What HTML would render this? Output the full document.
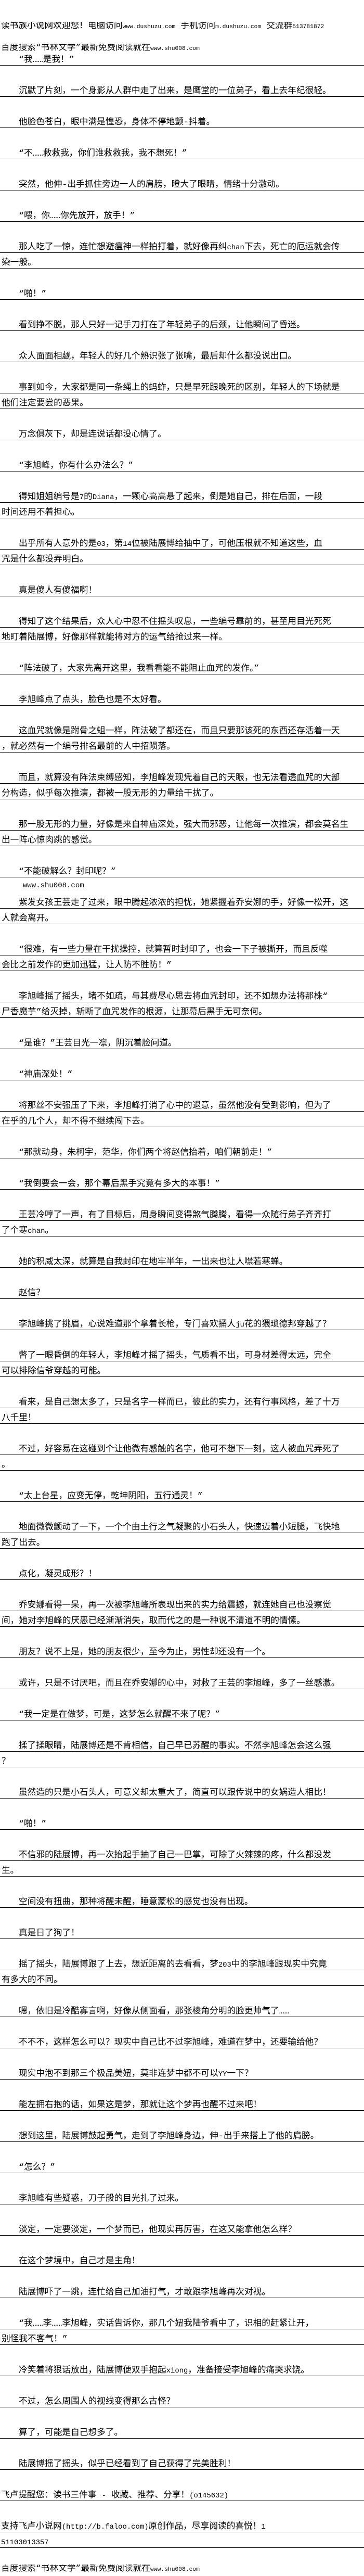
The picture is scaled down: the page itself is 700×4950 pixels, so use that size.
<!DOCTYPE html>
<html><head><meta charset="utf-8">
<style>
html,body{margin:0;padding:0;background:#fff;}
body{width:700px;height:4950px;overflow:hidden;position:relative;color:#000;
font-family:"Liberation Mono","Noto Sans CJK SC","WenQuanYi Zen Hei",monospace;font-size:16.7px;}
.h{position:absolute;left:2px;white-space:nowrap;line-height:18px;width:698px;overflow:hidden;}
.h .m{font-size:11.3px;}
.m{font-family:"Liberation Mono",monospace;font-size:13.9px;}
#c{position:absolute;top:96px;left:0;width:700px;}
.l{height:30px;box-sizing:border-box;border-bottom:1px solid #000;padding-top:11px;line-height:18px;white-space:nowrap;overflow:hidden;padding-left:36px;}
.l.c{padding-left:3px;}
.l.n{padding-left:2px;}
.g{height:30px;position:relative;}
.w{position:absolute;left:44px;top:8px;font-size:14px;}
</style></head><body>
<div class="h" style="top:42px">读书族小说网欢迎您！电脑访问<span class="m">www.dushuzu.com</span> 手机访问<span class="m">m.dushuzu.com</span> 交流群<span class="m">513781872</span></div>
<div class="h" style="top:84px">百度搜索“书林文学”最新免费阅读就在<span class="m">www.shu008.com</span></div>
<div id="c">
<div class="l">“我……是我！”</div>
<div class="g"></div><div class="l">沉默了片刻，一个身影从人群中走了出来，是鹰堂的一位弟子，看上去年纪很轻。</div>
<div class="g"></div><div class="l">他脸色苍白，眼中满是惶恐，身体不停地颤-抖着。</div>
<div class="g"></div><div class="l">“不……救救我，你们谁救救我，我不想死！”</div>
<div class="g"></div><div class="l">突然，他伸-出手抓住旁边一人的肩膀，瞪大了眼睛，情绪十分激动。</div>
<div class="g"></div><div class="l">“喂，你……你先放开，放手！”</div>
<div class="g"></div><div class="l">那人吃了一惊，连忙想避瘟神一样拍打着，就好像再纠<span class="m">chan</span>下去，死亡的厄运就会传</div><div class="l c">染一般。</div>
<div class="g"></div><div class="l">“啪！”</div>
<div class="g"></div><div class="l">看到挣不脱，那人只好一记手刀打在了年轻弟子的后颈，让他瞬间了昏迷。</div>
<div class="g"></div><div class="l">众人面面相觑，年轻人的好几个熟识张了张嘴，最后却什么都没说出口。</div>
<div class="g"></div><div class="l">事到如今，大家都是同一条绳上的蚂蚱，只是早死跟晚死的区别，年轻人的下场就是</div><div class="l c">他们注定要尝的恶果。</div>
<div class="g"></div><div class="l">万念俱灰下，却是连说话都没心情了。</div>
<div class="g"></div><div class="l">“李旭峰，你有什么办法么？”</div>
<div class="g"></div><div class="l">得知姐姐编号是<span class="m">7</span>的<span class="m">Diana</span>，一颗心高高悬了起来，倒是她自己，排在后面，一段</div><div class="l c">时间还用不着担心。</div>
<div class="g"></div><div class="l">出乎所有人意外的是<span class="m">03</span>，第<span class="m">14</span>位被陆展博给抽中了，可他压根就不知道这些，血</div><div class="l c">咒是什么都没弄明白。</div>
<div class="g"></div><div class="l">真是傻人有傻福啊！</div>
<div class="g"></div><div class="l">得知了这个结果后，众人心中忍不住摇头叹息，一些编号靠前的，甚至用目光死死</div><div class="l c">地盯着陆展博，好像那样就能将对方的运气给抢过来一样。</div>
<div class="g"></div><div class="l">“阵法破了，大家先离开这里，我看看能不能阻止血咒的发作。”</div>
<div class="g"></div><div class="l">李旭峰点了点头，脸色也是不太好看。</div>
<div class="g"></div><div class="l">这血咒就像是跗骨之蛆一样，阵法破了都还在，而且只要那该死的东西还存活着一天</div><div class="l c">，就必然有一个编号排名最前的人中招陨落。</div>
<div class="g"></div><div class="l">而且，就算没有阵法束缚感知，李旭峰发现凭着自己的天眼，也无法看透血咒的大部</div><div class="l c">分构造，似乎每次推演，都被一股无形的力量给干扰了。</div>
<div class="g"></div><div class="l">那一股无形的力量，好像是来自神庙深处，强大而邪恶，让他每一次推演，都会莫名生</div><div class="l c">出一阵心惊肉跳的感觉。</div>
<div class="g"></div><div class="l">“不能破解么？封印呢？”</div>
<div class="g"><span class="w m">www.shu008.com</span></div><div class="l">紫发女孩王芸走了过来，眼中腾起浓浓的担忧，她紧握着乔安娜的手，好像一松开，这</div><div class="l c">人就会离开。</div>
<div class="g"></div><div class="l">“很难，有一些力量在干扰操控，就算暂时封印了，也会一下子被撕开，而且反噬</div><div class="l c">会比之前发作的更加迅猛，让人防不胜防！”</div>
<div class="g"></div><div class="l">李旭峰摇了摇头，堵不如疏，与其费尽心思去将血咒封印，还不如想办法将那株“</div><div class="l c">尸香魔芋”给灭掉，斩断了血咒发作的根源，让那幕后黑手无可奈何。</div>
<div class="g"></div><div class="l">“是谁？”王芸目光一凛，阴沉着脸问道。</div>
<div class="g"></div><div class="l">“神庙深处！”</div>
<div class="g"></div><div class="l">将那丝不安强压了下来，李旭峰打消了心中的退意，虽然他没有受到影响，但为了</div><div class="l c">在乎的几个人，却不得不继续闯下去。</div>
<div class="g"></div><div class="l">“那就动身，朱柯宇，范华，你们两个将赵信抬着，咱们朝前走！”</div>
<div class="g"></div><div class="l">“我倒要会一会，那个幕后黑手究竟有多大的本事！”</div>
<div class="g"></div><div class="l">王芸冷哼了一声，有了目标后，周身瞬间变得煞气腾腾，看得一众随行弟子齐齐打</div><div class="l c">了个寒<span class="m">chan</span>。</div>
<div class="g"></div><div class="l">她的积威太深，就算是自我封印在地牢半年，一出来也让人噤若寒蝉。</div>
<div class="g"></div><div class="l">赵信？</div>
<div class="g"></div><div class="l">李旭峰挑了挑眉，心说难道那个拿着长枪，专门喜欢捅人<span class="m">ju</span>花的猥琐德邦穿越了？</div>
<div class="g"></div><div class="l">瞥了一眼昏倒的年轻人，李旭峰才摇了摇头，气质看不出，可身材差得太远，完全</div><div class="l c">可以排除信爷穿越的可能。</div>
<div class="g"></div><div class="l">看来，是自己想太多了，只是名字一样而已，彼此的实力，还有行事风格，差了十万</div><div class="l c">八千里！</div>
<div class="g"></div><div class="l">不过，好容易在这碰到个让他微有感触的名字，他可不想下一刻，这人被血咒弄死了</div><div class="l c">。</div>
<div class="g"></div><div class="l">“太上台星，应变无停，乾坤阴阳，五行通灵！”</div>
<div class="g"></div><div class="l">地面微微颤动了一下，一个个由土行之气凝聚的小石头人，快速迈着小短腿，飞快地</div><div class="l c">跑了出去。</div>
<div class="g"></div><div class="l">点化，凝灵成形？！</div>
<div class="g"></div><div class="l">乔安娜看得一呆，再一次被李旭峰所表现出来的实力给震撼，就连她自己也没察觉</div><div class="l c">间，她对李旭峰的厌恶已经渐渐消失，取而代之的是一种说不清道不明的情愫。</div>
<div class="g"></div><div class="l">朋友？说不上是，她的朋友很少，至今为止，男性却还没有一个。</div>
<div class="g"></div><div class="l">或许，只是不讨厌吧，而且在乔安娜的心中，对救了王芸的李旭峰，多了一丝感激。</div>
<div class="g"></div><div class="l">“我一定是在做梦，可是，这梦怎么就醒不来了呢？”</div>
<div class="g"></div><div class="l">揉了揉眼睛，陆展博还是不肯相信，自己早已苏醒的事实。不然李旭峰怎会这么强</div><div class="l c">？</div>
<div class="g"></div><div class="l">虽然造的只是小石头人，可意义却太重大了，简直可以跟传说中的女娲造人相比！</div>
<div class="g"></div><div class="l">“啪！”</div>
<div class="g"></div><div class="l">不信邪的陆展博，再一次抬起手抽了自己一巴掌，可除了火辣辣的疼，什么都没发</div><div class="l c">生。</div>
<div class="g"></div><div class="l">空间没有扭曲，那种将醒未醒，睡意蒙松的感觉也没有出现。</div>
<div class="g"></div><div class="l">真是日了狗了！</div>
<div class="g"></div><div class="l">摇了摇头，陆展博跟了上去，想近距离的去看看，梦<span class="m">203</span>中的李旭峰跟现实中究竟</div><div class="l c">有多大的不同。</div>
<div class="g"></div><div class="l">嗯，依旧是冷酷寡言啊，好像从侧面看，那张棱角分明的脸更帅气了……</div>
<div class="g"></div><div class="l">不不不，这样怎么可以？现实中自己比不过李旭峰，难道在梦中，还要输给他？</div>
<div class="g"></div><div class="l">现实中泡不到那三个极品美妞，莫非连梦中都不可以<span class="m">YY</span>一下？</div>
<div class="g"></div><div class="l">能左拥右抱的话，如果这是梦，那就让这个梦再也醒不过来吧！</div>
<div class="g"></div><div class="l">想到这里，陆展博鼓起勇气，走到了李旭峰身边，伸-出手来搭上了他的肩膀。</div>
<div class="g"></div><div class="l">“怎么？”</div>
<div class="g"></div><div class="l">李旭峰有些疑惑，刀子般的目光扎了过来。</div>
<div class="g"></div><div class="l">淡定，一定要淡定，一个梦而已，他现实再厉害，在这又能拿他怎么样？</div>
<div class="g"></div><div class="l">在这个梦境中，自己才是主角！</div>
<div class="g"></div><div class="l">陆展博吓了一跳，连忙给自己加油打气，才敢跟李旭峰再次对视。</div>
<div class="g"></div><div class="l">“我……李……李旭峰，实话告诉你，那几个妞我陆爷看中了，识相的赶紧让开，</div><div class="l c">别怪我不客气！”</div>
<div class="g"></div><div class="l">冷笑着将狠话放出，陆展博便双手抱起<span class="m">xiong</span>，准备接受李旭峰的痛哭求饶。</div>
<div class="g"></div><div class="l">不过，怎么周围人的视线变得那么古怪？</div>
<div class="g"></div><div class="l">算了，可能是自己想多了。</div>
<div class="g"></div><div class="l">陆展博摇了摇头，似乎已经看到了自己获得了完美胜利！</div>
<div class="g"></div><div class="l n">飞卢提醒您：读书三件事 <span class="m">-</span> 收藏、推荐、分享！<span class="m">(o145632)</span></div>
<div class="g"></div><div class="l n">支持飞卢小说网<span class="m">(http://b.faloo.com)</span>原创作品，尽享阅读的喜悦！<span class="m">1</span></div><div class="l n"><span class="m">51103013357</span></div>
</div>
<div class="h" style="top:4928px">百度搜索“书林文学”最新免费阅读就在<span class="m">www.shu008.com</span></div>
</body></html>
